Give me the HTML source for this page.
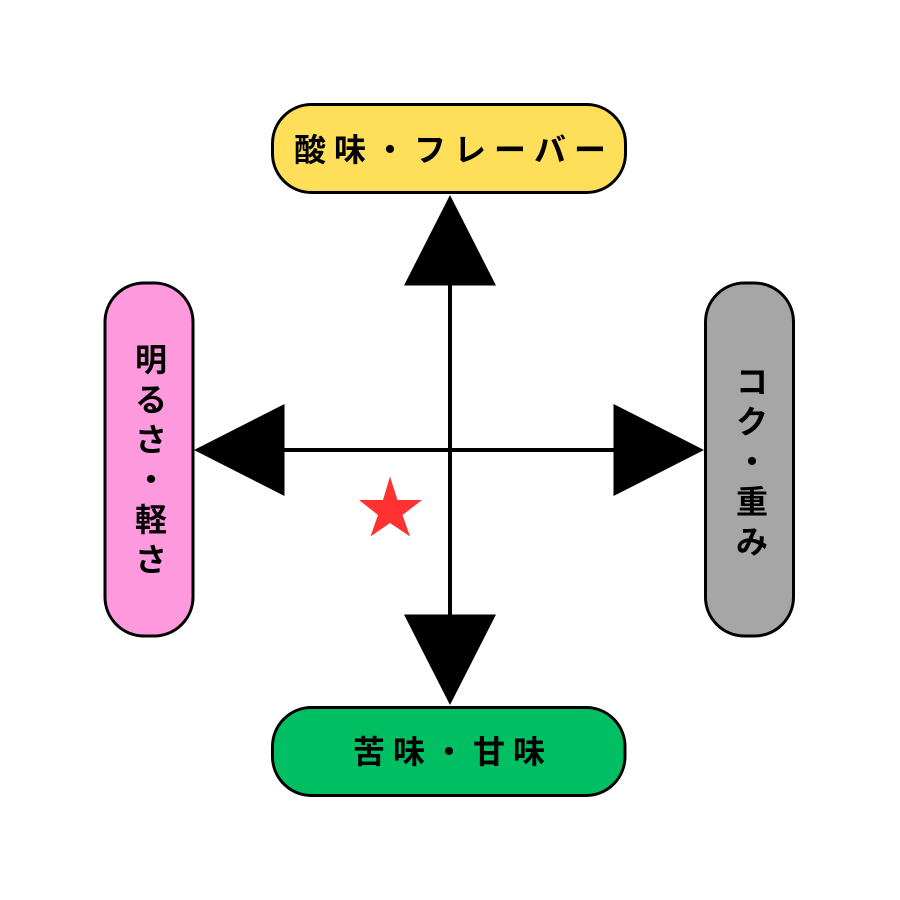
<!DOCTYPE html>
<html lang="ja">
<head>
<meta charset="utf-8">
<style>
html,body{margin:0;padding:0;background:#fff;width:900px;height:900px;overflow:hidden}
svg{display:block}
text{font-family:"Liberation Sans","Noto Sans CJK JP",sans-serif;font-weight:700;font-size:32px;fill:#000;text-anchor:middle}
</style>
</head>
<body>
<svg width="900" height="900" viewBox="0 0 900 900" xmlns="http://www.w3.org/2000/svg">
<rect width="900" height="900" fill="#fff"/>
<rect x="272.500" y="104.500" width="353" height="88" rx="39" fill="#ffde59" stroke="#000" stroke-width="3"/>
<rect x="272.500" y="707.500" width="352.500" height="88" rx="39" fill="#00bf63" stroke="#000" stroke-width="3"/>
<rect x="105" y="283" width="88" height="353" rx="39" fill="#ff99dd" stroke="#000" stroke-width="3"/>
<rect x="705.500" y="283" width="88" height="353" rx="39" fill="#a6a6a6" stroke="#000" stroke-width="3"/>
<rect x="448" y="280" width="4" height="340" fill="#000"/>
<rect x="280" y="448" width="340" height="4" fill="#000"/>
<polygon points="450,195 496,285.500 404,285.500" fill="#000"/>
<polygon points="450,705 496,614.500 404,614.500" fill="#000"/>
<polygon points="194,450 284.500,404 284.500,496" fill="#000"/>
<polygon points="704,450 613.500,404 613.500,496" fill="#000"/>
<polygon points="390,476.500 397.500,500 422,500 402.500,515 410,536.500 390,523 370.500,536.500 378,515 359,500 383,500" fill="#ff3131"/>
<g>
<text x="310" y="161">酸</text>
<text x="350" y="161">味</text>
<text x="390" y="161">・</text>
<text x="430" y="161">フ</text>
<text x="470" y="161">レ</text>
<text x="510" y="161">ー</text>
<text x="550" y="161">バ</text>
<text x="590" y="161">ー</text>
</g>
<g>
<text x="369" y="763">苦</text>
<text x="409" y="763">味</text>
<text x="449" y="763">・</text>
<text x="489" y="763">甘</text>
<text x="529" y="763">味</text>
</g>
<g>
<text x="151" y="371">明</text>
<text x="151" y="411">る</text>
<text x="151" y="451">さ</text>
<text x="151" y="491">・</text>
<text x="151" y="531">軽</text>
<text x="151" y="571">さ</text>
</g>
<g>
<text x="752" y="393">コ</text>
<text x="752" y="433">ク</text>
<text x="752" y="473">・</text>
<text x="752" y="513">重</text>
<text x="752" y="553">み</text>
</g>
</svg>
</body>
</html>
